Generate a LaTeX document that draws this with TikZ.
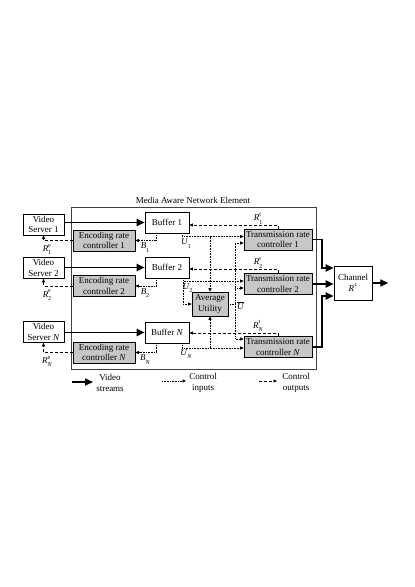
\documentclass[tikz,border=0pt]{standalone}
\usepackage{fontspec}
\setmainfont{Liberation Serif}
\usetikzlibrary{arrows.meta,calc}
\newcommand{\smallfnt}{\fontsize{6}{6}\selectfont}
\newcommand{\mylabss}[3]{\textit{#1}\rlap{\raisebox{1.1ex}{\smallfnt #3}}\raisebox{-0.75ex}{\smallfnt #2}}
\newcommand{\mylabs}[2]{\textit{#1}\raisebox{-0.75ex}{\smallfnt #2}}
\begin{document}
\begin{tikzpicture}[x=1pt,y=-1pt, font=\fontsize{9}{10.5}\selectfont,
 box/.style={draw,line width=0.6pt,align=center,inner sep=0pt},
 plainbox/.style={box,fill=white},
 greybox/.style={box,fill=black!22},
 stream/.style={line width=1.8pt,-{Triangle[length=8pt,width=7pt]}},
 ctrlin/.style={line width=0.8pt,dash pattern=on 0.8pt off 0.8pt,-{Triangle[length=3.5pt,width=3pt]}},
 ctrlinplain/.style={line width=0.8pt,dash pattern=on 0.8pt off 0.8pt},
 ctrlout/.style={line width=0.7pt,dash pattern=on 3pt off 2pt,-{Triangle[length=3.5pt,width=3pt]}},
 lab/.style={inner sep=0pt}]
\useasboundingbox (0,0) rectangle (415,587);

% main element box
\draw[line width=0.8pt,black!75] (71,207) rectangle (316,369);
\node[lab] (title) at (193,200) {Media Aware Network Element};

% servers
\node[plainbox,minimum width=41pt,minimum height=21pt] (srv1) at (43.5,224.5) {Video\\Server 1};
\node[plainbox,minimum width=41pt,minimum height=21pt] (srv2) at (43.5,268) {Video\\Server 2};
\node[plainbox,minimum width=41pt,minimum height=21pt] (srvN) at (43.5,332) {Video\\Server \textit{N}};

% buffers
\node[plainbox,minimum width=44pt,minimum height=21pt] (buf1) at (167,222.5) {Buffer 1};
\node[plainbox,minimum width=44pt,minimum height=21pt] (buf2) at (167,267.5) {Buffer 2};
\node[plainbox,minimum width=44pt,minimum height=21pt] (bufN) at (167,332.5) {Buffer \textit{N}};

% encoding controllers
\node[greybox,minimum width=62pt,minimum height=21pt] (enc1) at (104,240.5) {Encoding rate\\controller 1};
\node[greybox,minimum width=62pt,minimum height=21pt] (enc2) at (104,286) {Encoding rate\\controller 2};
\node[greybox,minimum width=62pt,minimum height=21pt] (encN) at (104,352.5) {Encoding rate\\controller \textit{N}};

% transmission controllers
\node[greybox,minimum width=68pt,minimum height=21pt] (tr1) at (278,239.5) {Transmission rate\\controller 1};
\node[greybox,minimum width=68pt,minimum height=21pt] (tr2) at (278,284) {Transmission rate\\controller 2};
\node[greybox,minimum width=68pt,minimum height=21pt] (trN) at (278,347) {Transmission rate\\controller \textit{N}};

% average utility
\node[greybox,minimum width=36pt,minimum height=24pt] (avg) at (210,304) {Average\\Utility};

% channel
\node[plainbox,minimum width=38pt,minimum height=34pt] (chan) at (353,283) {Channel\\\rlap{\textit{R}}\phantom{R}\raisebox{1.1ex}{\smallfnt c}};

% video streams
\draw[stream] (srv1.east |- buf1.west) -- (buf1.west);
\draw[stream] (srv2.east |- buf2.west) -- (buf2.west);
\draw[stream] (srvN.east |- bufN.west) -- (bufN.west);

% encoding -> server (control outputs)
\draw[ctrlout] (enc1.west) -| (srv1.south);
\draw[ctrlout] (enc2.west) -| (srv2.south);
\draw[ctrlout] (encN.west) -| (srvN.south);
\node[lab] (re1) at (47,249.5) {\mylabss{R}{1}{e}};
\node[lab] (re2) at (47,295) {\mylabss{R}{2}{e}};
\node[lab] (reN) at (47,361.5) {\mylabss{R}{\textit{N}}{e}};

% buffer -> encoding (B)
\coordinate (b1) at ($(buf1.south west)+(12,0)$);
\coordinate (b2) at ($(buf2.south west)+(12,0)$);
\coordinate (bN) at ($(bufN.south west)+(12,0)$);
\draw[ctrlin] (b1) |- (enc1.east);
\draw[ctrlin] (b2) |- (enc2.east);
\draw[ctrlin] (bN) |- (encN.east);
\node[lab] (lb1) at (145,247.5) {\mylabs{B}{1}};
\node[lab] (lb2) at (145,293) {\mylabs{B}{2}};
\node[lab] (lbN) at (145,359.5) {\mylabs{B}{\textit{N}}};

% transmission -> buffer (R^t)
\draw[ctrlout] (tr1.north) |- ($(buf1.east)+(0,2.5)$);
\draw[ctrlout] (tr2.north) |- ($(buf2.east)+(0,1.5)$);
\draw[ctrlout] (trN.north) |- ($(bufN.east)+(0,0.5)$);
\node[lab] (rt1) at (258,218.5) {\mylabss{R}{1}{t}};
\node[lab] (rt2) at (258,262.5) {\mylabss{R}{2}{t}};
\node[lab] (rtN) at (258,326) {\mylabss{R}{\textit{N}}{t}};

% utilities U
\coordinate (u1) at ($(buf1.south east)+(-7,0)$);
\coordinate (u2) at ($(buf2.south east)+(-6,0)$);
\coordinate (uN) at ($(bufN.south east)+(-7,0)$);
\coordinate (t1u) at ($(tr1.west)+(0,-3)$);
\coordinate (t2u) at ($(tr2.west)+(0,-3)$);
\coordinate (tNu) at ($(trN.west)+(0,1)$);
\draw[ctrlin] (u1) |- (t1u);
\draw[ctrlin] (avg.north |- t1u) -- (avg.north);
\draw[ctrlin] (u2) |- (t2u);
\draw[ctrlin] (u2) |- (avg.west);
\draw[ctrlin] (uN) |- (tNu);
\draw[ctrlin] (avg.south |- tNu) -- (avg.south);
\node[lab] (lu1) at (186,243.5) {\mylabs{U}{1}};
\node[lab] (lu2) at (187.5,288) {\mylabs{U}{2}};
\node[lab] (luN) at (186,354) {\mylabs{U}{\textit{N}}};

% average utility -> transmission
\coordinate (ub) at ($(avg.east)+(7,0)$);
\draw[ctrlinplain] (avg.east) -- (ub);
\draw[ctrlin] (ub) |- ($(tr1.west)+(0,3.5)$);
\draw[ctrlin] (ub) |- ($(tr2.west)+(0,4)$);
\draw[ctrlin] (ub) |- ($(trN.west)+(0,-8)$);
\node[lab] (lub) at (240.5,306) {$\overline{\mbox{\textit{U}}}$};

% transmission -> channel
\coordinate (c1) at ($(chan.west)+(0,-15)$);
\coordinate (c3) at ($(chan.west)+(0,13)$);
\draw[stream] (tr1.east) -- ++(10,0) |- (c1);
\draw[stream] (tr2.east) -- (tr2.east -| chan.west);
\draw[stream] (trN.east) -- ++(10,0) |- (c3);
\coordinate (out) at ($(chan.east)+(16,0)$);
\draw[stream] (chan.east) -- (out);

% legend
\coordinate (l1a) at (72,382); \coordinate (l1b) at (93,382);
\coordinate (l2a) at (162,381); \coordinate (l2b) at (186,381);
\coordinate (l3a) at (259,381); \coordinate (l3b) at (277,381);
\draw[stream] (l1a) -- (l1b);
\draw[ctrlin] (l2a) -- (l2b);
\draw[ctrlout] (l3a) -- (l3b);
\node[lab,align=center] (leg1) at (110,383) {Video\\streams};
\node[lab,align=center] (leg2) at (203,383) {Control\\inputs};
\node[lab,align=center] (leg3) at (296,383) {Control\\outputs};
\end{tikzpicture}
\end{document}
